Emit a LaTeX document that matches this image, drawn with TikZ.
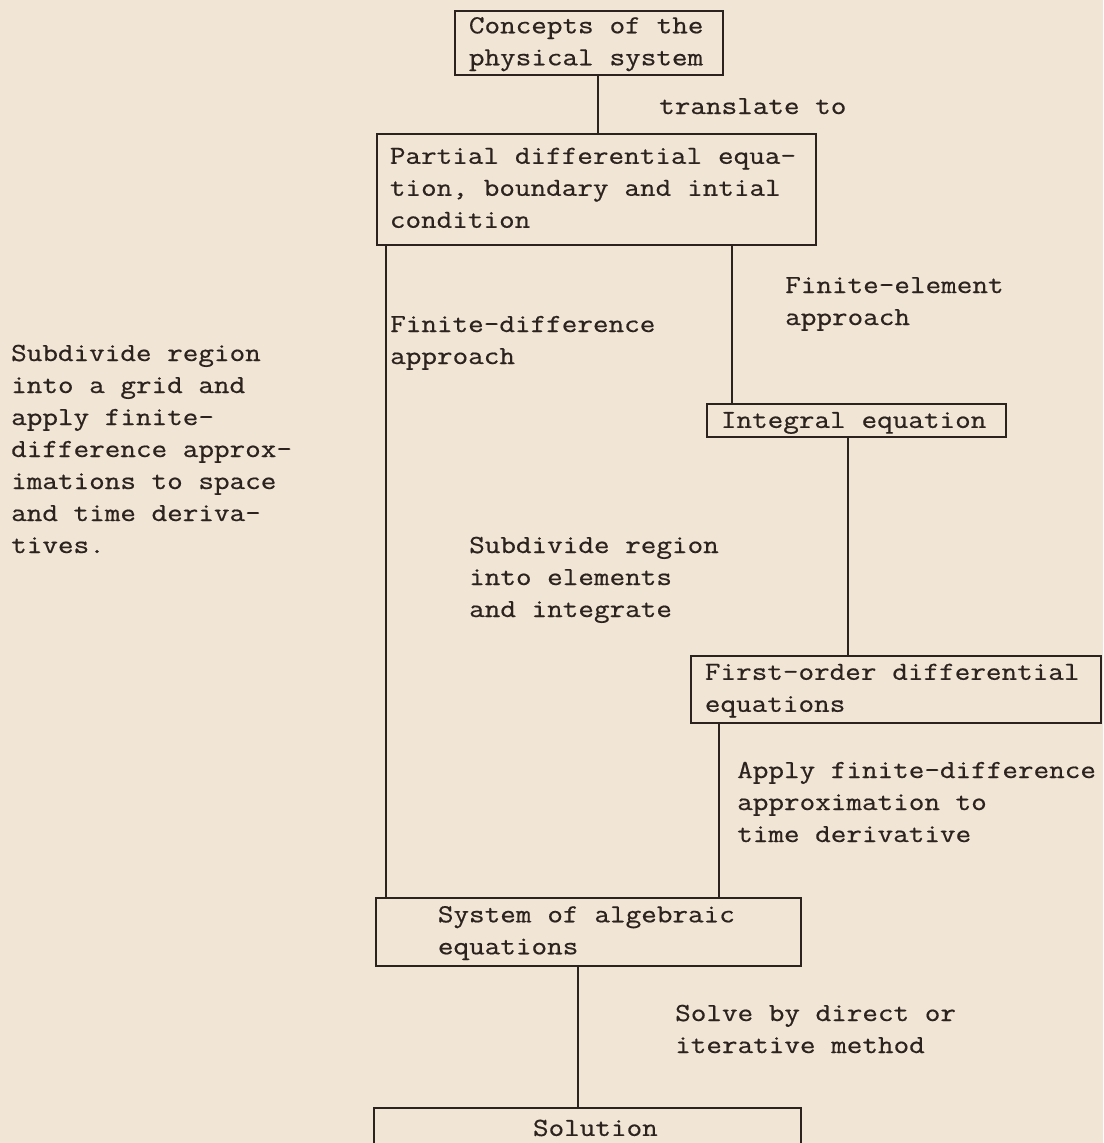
\documentclass[tikz,border=0pt]{standalone}
\usepackage{fontspec}
\setmonofont[FakeStretch=1.165, FakeBold=0.6]{Latin Modern Mono}
\definecolor{paper}{RGB}{241,229,214}
\definecolor{ink}{RGB}{45,35,30}
\tikzset{
  box/.style={draw=ink, line width=1.8pt, text=ink, anchor=north west, align=left, inner ysep=0pt,
    font=\ttfamily\fontsize{26}{32}\selectfont,
    execute at begin node={\spaceskip=15.9pt\relax\strut}, execute at end node=\strut},
  note/.style={text=ink, anchor=base west, align=left, inner sep=0pt,
    font=\ttfamily\fontsize{26}{32}\selectfont},
  link/.style={draw=ink, line width=1.8pt}
}

\begin{document}
\begin{tikzpicture}[x=1pt, y=-1pt]
    \clip (0,0) rectangle (1103,1143);
    \fill[paper] (0,0) rectangle (1103,1143);

    % boxes
    \node[box, text width=240pt, inner xsep=14pt] (concepts) at (454,10) {Concepts of the\\physical system};
    \node[box, text width=413pt, inner xsep=13pt, inner ysep=7.5pt] (pde) at (376,133) {Partial differential equa-\\tion, boundary and intial\\condition};
    \node[box, text width=271pt, inner xsep=14pt, text height=24pt, text depth=9pt] (integral) at (706,403) {Integral equation};
    \node[box, text width=382pt, inner xsep=14pt, inner ysep=1.5pt] (firstorder) at (690,655) {First-order differential\\equations};
    \node[box, text width=301pt, inner xsep=62pt, inner ysep=2pt] (algebraic) at (375,897) {System of algebraic\\equations};
    \node[box, text width=397pt, inner xsep=15pt, align=center, text height=28pt, text depth=40pt] (solution) at (373,1107) {\hspace*{16pt}Solution};

    % connectors
    \coordinate (top) at ([xshift=9pt]concepts.south);
    \draw[link] (top) -- (top |- pde.north);
    \coordinate (fdtop) at ([xshift=10pt]pde.south west);
    \draw[link] (fdtop) -- (fdtop |- algebraic.north);
    \coordinate (fetop) at ([xshift=26pt]integral.north west);
    \draw[link] (fetop |- pde.south) -- (fetop);
    \coordinate (ietop) at ([xshift=158pt]firstorder.north west);
    \draw[link] (ietop |- integral.south) -- (ietop);
    \coordinate (tdtop) at ([xshift=29pt]firstorder.south west);
    \draw[link] (tdtop) -- (tdtop |- algebraic.north);
    \coordinate (sotop) at ([xshift=203pt]algebraic.south west);
    \draw[link] (sotop) -- (sotop |- solution.north);

    % labels (placed at the baseline of their last line)
    \node[note] (translate) at (659,114) {translate to};
    \node[note] (fdlabel) at (390,364) {Finite-difference\\approach};
    \node[note] (felabel) at (785,325) {Finite-element\\approach};
    \node[note] (gridnote) at (11,553) {Subdivide region\\into a grid and\\apply finite-\\difference approx-\\imations to space\\and time deriva-\\tives.};
    \node[note] (elemnote) at (469,617) {Subdivide region\\into elements\\and integrate};
    \node[note] (timenote) at (737,842) {Apply finite-difference\\approximation to\\time derivative};
    \node[note] (solvenote) at (675,1053) {Solve by direct or\\iterative method};
\end{tikzpicture}
\end{document}
